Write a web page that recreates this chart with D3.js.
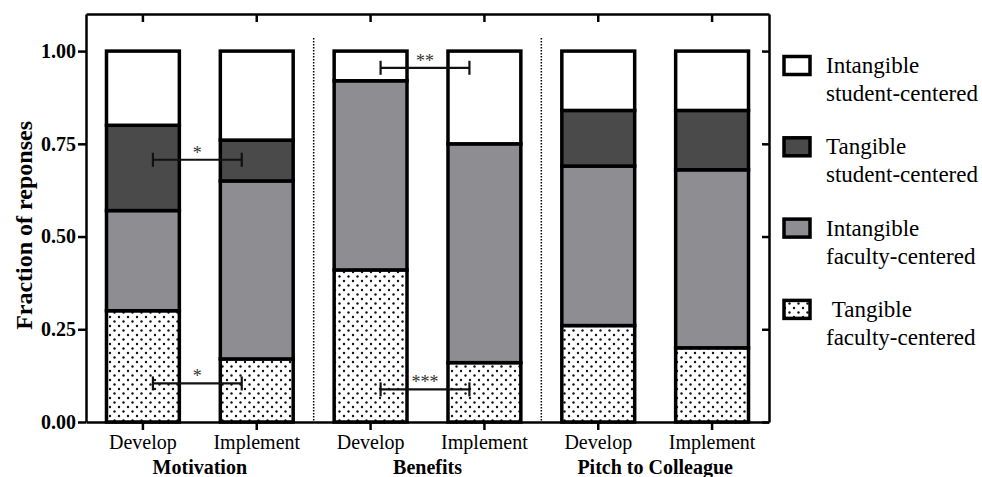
<!DOCTYPE html>
<html>
<head>
<meta charset="utf-8">
<script src="https://cdn.jsdelivr.net/npm/d3@7"></script>
<style>
  html, body { margin: 0; padding: 0; background: #fff; }
  svg { display: block; font-family: "Liberation Serif", "Times New Roman", serif; }
</style>
</head>
<body>
<div id="chart"></div>
<script>
// ---- data ----
const groups = ['Motivation', 'Benefits', 'Pitch to Colleague'];
const phases = ['Develop', 'Implement'];
const seriesKeys = ['Tangible faculty', 'Intangible faculty', 'Tangible student', 'Intangible student'];
const legendLines = [
    ['Intangible', 'student-centered'],
    ['Tangible', 'student-centered'],
    ['Intangible', 'faculty-centered'],
    ['\u00a0Tangible', 'faculty-centered']
];
// fractions per bar, bottom -> top (order of seriesKeys)
const tangibleFaculty   = [0.30, 0.17, 0.41, 0.16, 0.26, 0.20];
const intangibleFaculty = [0.27, 0.48, 0.51, 0.59, 0.43, 0.48];
const tangibleStudent   = [0.23, 0.11, 0.00, 0.00, 0.15, 0.16];
const intangibleStudent = [0.20, 0.24, 0.08, 0.25, 0.16, 0.16];
const yTicks = [0, 0.25, 0.5, 0.75, 1];
// significance brackets: group, height, label
const sigGroups = ['Motivation', 'Motivation', 'Benefits', 'Benefits'];
const sigValues = [0.707, 0.104, 0.955, 0.088];
const sigLabels = ['*', '*', '**', '***'];

const W = 982, H = 477;
const margin = { left: 86, right: 213, top: 14, bottom: 55 };

const rows = [];
groups.forEach(g => phases.forEach(p => rows.push({ key: g + '|' + p, group: g, phase: p })));
rows.forEach((r, i) => {
    r['Tangible faculty'] = tangibleFaculty[i];
    r['Intangible faculty'] = intangibleFaculty[i];
    r['Tangible student'] = tangibleStudent[i];
    r['Intangible student'] = intangibleStudent[i];
});

const svg = d3.select('#chart').append('svg').attr('width', W).attr('height', H);
svg.append('rect').attr('width', W).attr('height', H).attr('fill', '#fff');

// dotted fill pattern
const defs = svg.append('defs');
const pat = defs.append('pattern').attr('id', 'dots')
    .attr('patternUnits', 'userSpaceOnUse').attr('width', 9).attr('height', 9);
pat.append('rect').attr('width', 9).attr('height', 9).attr('fill', '#fff');
pat.append('circle').attr('cx', 2).attr('cy', 2).attr('r', 1.2).attr('fill', '#111');
pat.append('circle').attr('cx', 6.5).attr('cy', 6.5).attr('r', 1.2).attr('fill', '#111');

const fills = {
    'Tangible faculty': 'url(#dots)',
    'Intangible faculty': '#8e8d92',
    'Tangible student': '#4a4a4a',
    'Intangible student': '#ffffff'
};

const x = d3.scaleBand()
    .domain(rows.map(r => r.key))
    .range([margin.left, W - margin.right])
    .paddingInner(0.36).paddingOuter(0.18);
const y = d3.scaleLinear().domain([0, 1.1]).range([H - margin.bottom, margin.top]);
const cx = k => x(k) + x.bandwidth() / 2;

// dotted group separators
for (let i = 1; i < groups.length; i++) {
    const xm = (cx(groups[i - 1] + '|Implement') + cx(groups[i] + '|Develop')) / 2;
    svg.append('line')
        .attr('x1', xm).attr('x2', xm)
        .attr('y1', y(1.035)).attr('y2', y(0))
        .attr('stroke', '#000').attr('stroke-width', 1.5)
        .attr('stroke-dasharray', '1.5,1.5');
}

// stacked bars
const stacked = d3.stack().keys(seriesKeys)(rows);
stacked.forEach(layer => {
    svg.append('g')
        .selectAll('rect')
        .data(layer.filter(d => d[1] - d[0] > 0.001))
        .join('rect')
        .attr('x', d => x(d.data.key))
        .attr('width', x.bandwidth())
        .attr('y', d => y(d[1]))
        .attr('height', d => y(d[0]) - y(d[1]))
        .attr('fill', fills[layer.key])
        .attr('stroke', '#000')
        .attr('stroke-width', 3.5);
});

// axes / frame
const axisStyle = g => {
    g.selectAll('.domain').attr('stroke', '#000').attr('stroke-width', 2.5);
    g.selectAll('.tick line').attr('stroke', '#000').attr('stroke-width', 2.5);
};

svg.append('g')
    .attr('transform', `translate(${margin.left},0)`)
    .call(d3.axisLeft(y).tickValues(yTicks).tickFormat(d3.format('.2f')).tickSize(8).tickSizeOuter(0).tickPadding(2))
    .call(axisStyle)
    .call(g => g.selectAll('text').attr('font-size', 20).attr('font-weight', 'bold')
        .attr('font-family', '"Liberation Serif", serif').attr('fill', '#000'));

svg.append('g')
    .attr('transform', `translate(${W - margin.right},0)`)
    .call(d3.axisLeft(y).tickValues(yTicks).tickFormat('').tickSize(7).tickSizeOuter(0))
    .call(axisStyle);

svg.append('g')
    .attr('transform', `translate(0,${margin.top})`)
    .call(d3.axisBottom(x).tickFormat('').tickSize(8).tickSizeOuter(0))
    .call(axisStyle);

svg.append('g')
    .attr('transform', `translate(0,${y(0)})`)
    .call(d3.axisBottom(x).tickFormat(k => k.split('|')[1]).tickSize(8).tickSizeOuter(0).tickPadding(5))
    .call(axisStyle)
    .call(g => g.selectAll('text').attr('font-size', 20)
        .attr('font-family', '"Liberation Serif", serif').attr('fill', '#000'));

// group labels
svg.append('g').selectAll('text')
    .data(groups)
    .join('text')
    .attr('x', g => (cx(g + '|Develop') + cx(g + '|Implement')) / 2)
    .attr('y', 474)
    .attr('text-anchor', 'middle')
    .attr('font-size', 20).attr('font-weight', 'bold')
    .text(g => g);

// y title
svg.append('text')
    .attr('transform', `translate(32,${y(0.53)}) rotate(-90)`)
    .attr('text-anchor', 'middle')
    .attr('font-size', 24).attr('font-weight', 'bold')
    .text('Fraction of reponses');

// significance brackets
sigGroups.forEach((g, i) => {
    const x1 = cx(g + '|Develop') + 10;
    const x2 = cx(g + '|Implement') - 15;
    const yy = y(sigValues[i]);
    const b = svg.append('g').attr('stroke', '#111').attr('stroke-width', 2.2);
    b.append('line').attr('x1', x1).attr('x2', x2).attr('y1', yy).attr('y2', yy);
    b.append('line').attr('x1', x1).attr('x2', x1).attr('y1', yy - 7).attr('y2', yy + 7);
    b.append('line').attr('x1', x2).attr('x2', x2).attr('y1', yy - 7).attr('y2', yy + 7);
    svg.append('text')
        .attr('x', (x1 + x2) / 2).attr('y', yy - 1)
        .attr('text-anchor', 'middle')
        .attr('font-size', 18).attr('fill', '#333')
        .text(sigLabels[i]);
});

// legend
const legend = svg.append('g');
const legendOrder = seriesKeys.slice().reverse();
legendOrder.forEach((k, i) => {
    const cy = 65.5 + i * 81.3;
    legend.append('rect')
        .attr('x', 784).attr('y', cy - 9)
        .attr('width', 26).attr('height', 18)
        .attr('fill', fills[k]).attr('stroke', '#000').attr('stroke-width', 3.5);
    legendLines[i].forEach((t, j) => {
        legend.append('text')
            .attr('x', 826).attr('y', cy + 7.5 + j * 28)
            .attr('font-size', 23)
            .text(t);
    });
});
</script>
</body>
</html>
